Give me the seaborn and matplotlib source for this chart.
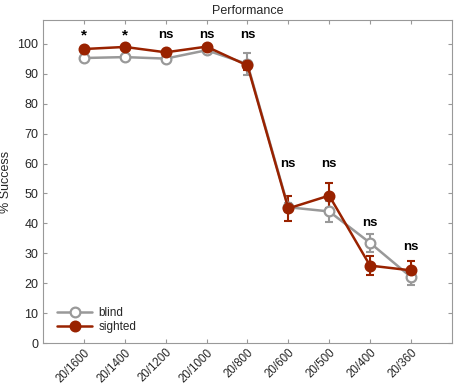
import matplotlib
matplotlib.use("Agg")
import matplotlib.pyplot as plt
import seaborn as sns
import pandas as pd
import numpy as np

categories = ["20/1600", "20/1400", "20/1200", "20/1000", "20/800",
              "20/600", "20/500", "20/400", "20/360"]
blind = [95.3, 95.6, 95.1, 97.9, 93.3, 45.4, 44.0, 33.5, 22.1]
blind_err = [0.5, 0.5, 0.5, 1.0, 3.7, 1.5, 3.5, 3.0, 2.6]
sighted = [98.3, 99.0, 97.2, 99.1, 92.8, 45.0, 49.3, 25.9, 24.3]
sighted_err = [0.5, 0.5, 0.5, 0.5, 1.5, 4.2, 4.3, 3.2, 3.2]
sig_labels = ["*", "*", "ns", "ns", "ns", "ns", "ns", "ns", "ns"]
sig_y = [103, 103, 103, 103, 103, 60, 60, 40, 32]

sns.set_style("white")
plt.rcParams['font.family'] = ['Liberation Sans', 'DejaVu Sans']

pos = np.arange(1, len(categories) + 1)
df = pd.concat([
    pd.DataFrame({"pos": pos, "val": blind, "err": blind_err, "group": "blind"}),
    pd.DataFrame({"pos": pos, "val": sighted, "err": sighted_err, "group": "sighted"}),
])

gray = "#999999"
red = "#992200"

fig = plt.figure(figsize=(4.54, 3.85), dpi=100)
ax = fig.add_axes([0.095, 0.109, 0.9, 0.839])

for g, col, mfc in [("blind", gray, "white"), ("sighted", red, red)]:
    sub = df[df.group == g]
    ax.errorbar(sub.pos, sub.val, yerr=sub.err, fmt="none", ecolor=col,
                elinewidth=1.5, capsize=3, capthick=1.5, zorder=2)
    sns.lineplot(data=sub, x="pos", y="val", ax=ax, color=col, lw=1.8,
                 marker="o", markersize=7, markerfacecolor=mfc,
                 markeredgecolor=col, markeredgewidth=1.6, label=g, zorder=3)

for p, lab, y in zip(pos, sig_labels, sig_y):
    ax.text(p, y, lab, ha="center", va="center", fontsize=9.5 if lab == "ns" else 11,
            fontweight="bold", color="black")

ax.set_xlim(0, 10)
ax.set_ylim(0, 108)
ax.set_xticks(pos)
ax.set_xticklabels(categories, rotation=45, ha="right", va="top",
                   rotation_mode="anchor", fontsize=8.3)
ax.set_yticks(range(0, 101, 10))
ax.tick_params(axis="y", labelsize=9)
ax.tick_params(direction="in", length=3, color=gray, top=True, right=True,
               bottom=True, left=True, width=0.8)
ax.tick_params(axis="x", pad=2.5)
ax.set_xlabel("")
ax.set_ylabel("% Success", fontsize=9)
ax.set_title("Performance", fontsize=9, pad=4)
for s in ax.spines.values():
    s.set_color(gray)
    s.set_linewidth(0.8)

ax.legend(loc="lower left", frameon=False, fontsize=8.5, handlelength=3.0,
          bbox_to_anchor=(0.008, -0.002), labelspacing=0.2, handletextpad=0.5)

fig.savefig("out.png", dpi=100)
